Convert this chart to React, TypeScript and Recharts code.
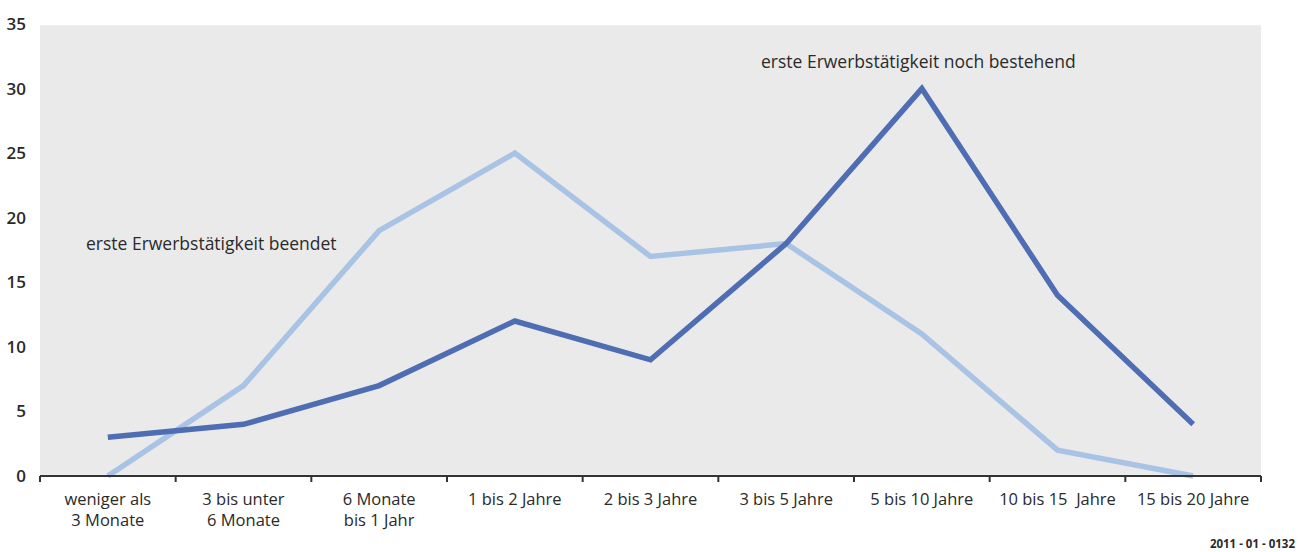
import React from "react";
import {
    LineChart,
    Line,
    XAxis,
    YAxis,
    CartesianGrid,
} from "recharts";

const categories = [
    "weniger als\n3 Monate",
    "3 bis unter\n6 Monate",
    "6 Monate\nbis 1 Jahr",
    "1 bis 2 Jahre",
    "2 bis 3 Jahre",
    "3 bis 5 Jahre",
    "5 bis 10 Jahre",
    "10 bis 15  Jahre",
    "15 bis 20 Jahre",
];
const beendet = [0, 7, 19, 25, 17, 18, 11, 2, 0];
const bestehend = [3, 4, 7, 12, 9, 18, 30, 14, 4];
const yTicks = [0, 5, 10, 15, 20, 25, 30, 35];

const W = 1304;
const H = 552;
const LEFT_AXIS = 40;
const RIGHT_AXIS = 43;
const BAND = (W - LEFT_AXIS - RIGHT_AXIS) / categories.length;
const FONT = "'Open Sans', sans-serif";
const TEXT = "#2a2a2a";

const data = categories.map((c, i) => ({
    cat: c,
    beendet: beendet[i],
    bestehend: bestehend[i],
}));

function CategoryTick(props: any) {
    const { x, y, payload, index } = props;
    const lines = String(payload.value).split("\n");
    const left = x - BAND / 2;
    return (
        <g>
            <line x1={left} y1={y - 8} x2={left} y2={y - 2} stroke="#333" strokeWidth={2} />
            {index === categories.length - 1 && (
                <line x1={left + BAND} y1={y - 8} x2={left + BAND} y2={y - 2} stroke="#333" strokeWidth={2} />
            )}
            <text x={x} y={y + 21} textAnchor="middle" fill={TEXT} fontSize={16.5} fontFamily={FONT} style={{ whiteSpace: "pre" }}>
                {lines.map((l, i) => (
                    <tspan key={i} x={x} dy={i === 0 ? 0 : 21}>
                        {l}
                    </tspan>
                ))}
            </text>
        </g>
    );
}

const yTickStyle = { fill: TEXT, fontSize: 17, fontWeight: 600, fontFamily: FONT };
const noteStyle: React.CSSProperties = {
    position: "absolute",
    fontFamily: FONT,
    fontSize: 17.5,
    color: TEXT,
    whiteSpace: "nowrap",
    lineHeight: "20px",
};

export default function App() {
    return (
        <div style={{ position: "absolute", left: 0, top: 0, width: W, height: H, background: "#fff", overflow: "hidden" }}>
            <LineChart
                width={W}
                height={H}
                data={data}
                margin={{ top: 24, right: 0, left: 0, bottom: 0 }}
            >
                <CartesianGrid
                    vertical={false}
                    fill="#eaeaea"
                    stroke="#ffffff"
                    strokeWidth={2.5}
                />
                <XAxis
                    dataKey="cat"
                    scale="band"
                    interval={0}
                    height={76}
                    axisLine={{ stroke: "#333", strokeWidth: 2 }}
                    tickLine={false}
                    tick={<CategoryTick />}
                />
                <YAxis
                    yAxisId="left"
                    domain={[0, 35]}
                    ticks={yTicks}
                    width={LEFT_AXIS}
                    axisLine={false}
                    tickLine={false}
                    tick={yTickStyle}
                    tickMargin={8}
                />
                <YAxis
                    yAxisId="right"
                    orientation="right"
                    domain={[0, 35]}
                    ticks={yTicks}
                    width={RIGHT_AXIS}
                    axisLine={false}
                    tickLine={false}
                    tick={yTickStyle}
                    tickMargin={8}
                />
                <Line
                    yAxisId="left"
                    dataKey="beendet"
                    stroke="#a9c3e5"
                    strokeWidth={5.5}
                    dot={false}
                    type="linear"
                    isAnimationActive={false}
                />
                <Line
                    yAxisId="left"
                    dataKey="bestehend"
                    stroke="#4f6db3"
                    strokeWidth={5.5}
                    dot={false}
                    type="linear"
                    isAnimationActive={false}
                />
            </LineChart>
            <div style={{ ...noteStyle, left: 86, top: 233 }}>
                erste Erwerbstätigkeit beendet
            </div>
            <div style={{ ...noteStyle, left: 761, top: 51 }}>
                erste Erwerbstätigkeit noch bestehend
            </div>
            <div style={{ position: "absolute", right: 9, top: 537, fontFamily: FONT, fontSize: 11.5, fontWeight: 700, color: TEXT, whiteSpace: "nowrap", lineHeight: "14px" }}>
                2011 - 01 - 0132
            </div>
        </div>
    );
}
